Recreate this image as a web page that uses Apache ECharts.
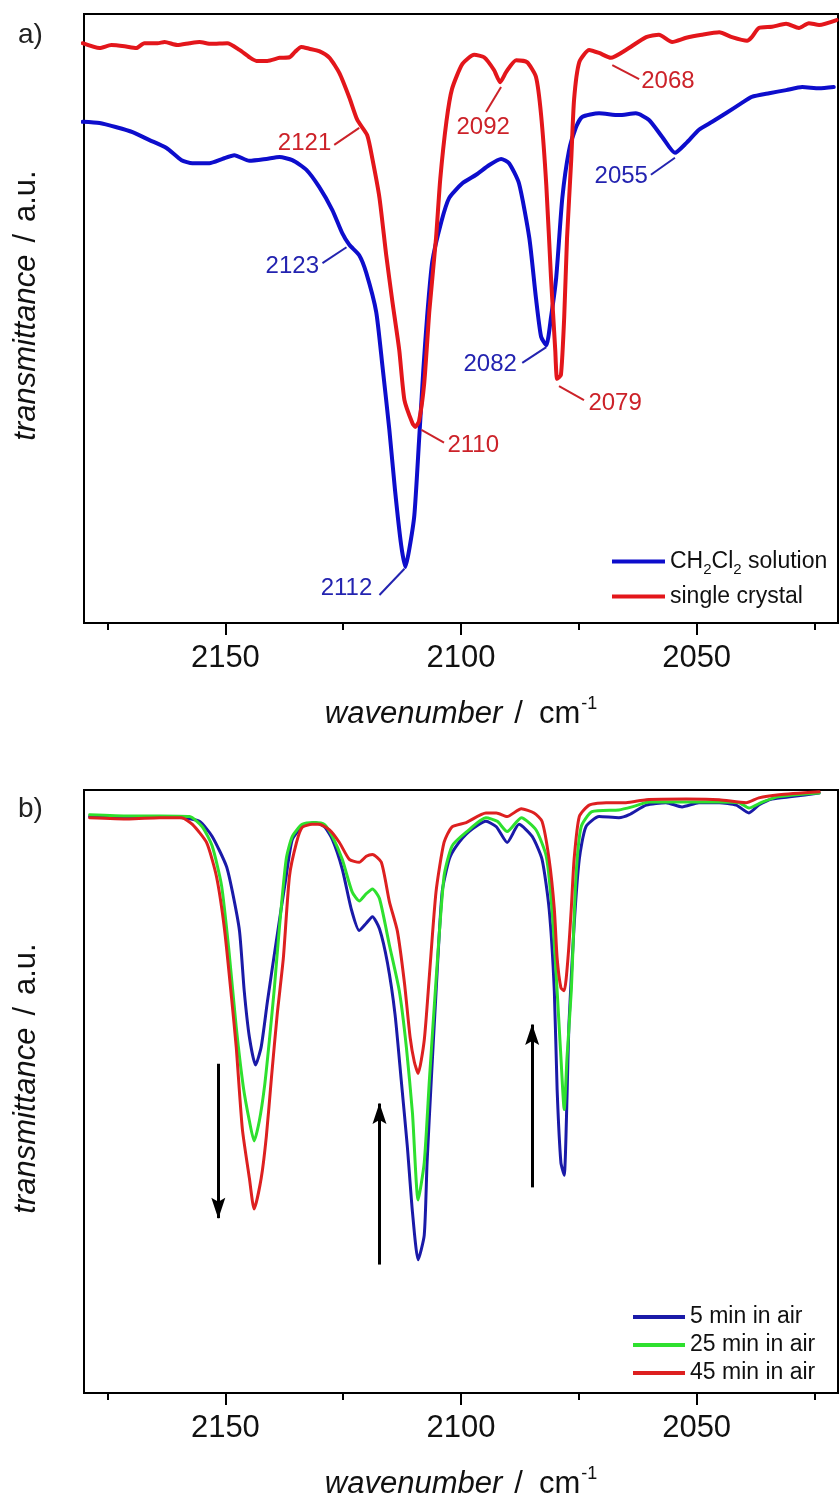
<!DOCTYPE html>
<html>
<head>
<meta charset="utf-8">
<script src="https://cdn.jsdelivr.net/npm/echarts@6/dist/echarts.min.js"></script>
<style>
html,body{margin:0;padding:0;background:#fff;}
#chart{width:840px;height:1505px;}
</style>
</head>
<body>
<div id="chart"></div>
<script>
// ---------- data (wavenumber / cm-1, transmittance / a.u.) ----------
const xRange = [2020, 2180];
const majorTicks = [2050, 2100, 2150];
const minorTicks = [2025, 2075, 2125, 2175];

// panel a) CH2Cl2 solution
const solutionA = [[2180.3,82.3],[2176.7,82.1],[2173.1,81.4],[2169.7,80.6],[2166.1,79.3],[2162.5,78.0],[2159.3,76.0],[2157.0,75.5],[2153.4,75.5],[2150.6,76.2],[2148.1,76.8],[2144.9,75.9],[2141.3,76.2],[2138.5,76.5],[2135.8,76.0],[2132.8,74.4],[2130.1,71.6],[2127.3,67.8],[2125.2,64.0],[2123.7,62.1],[2121.6,60.4],[2120.1,57.5],[2118.0,51.1],[2116.7,42.4],[2115.2,31.7],[2114.0,21.8],[2112.7,12.8],[2111.8,9.2],[2111.0,12.0],[2109.9,17.7],[2108.9,30.0],[2108.0,41.5],[2107.2,50.2],[2106.1,59.3],[2104.2,65.8],[2102.5,69.8],[2099.7,72.2],[2096.8,73.6],[2094.0,75.2],[2091.5,76.2],[2089.8,75.5],[2087.7,72.2],[2085.5,63.2],[2084.1,53.4],[2083.0,47.0],[2081.9,45.6],[2080.9,50.2],[2079.8,56.7],[2078.5,69.8],[2077.1,77.5],[2075.6,81.4],[2074.3,83.1],[2070.7,83.7],[2066.5,83.4],[2062.9,83.7],[2060.1,82.6],[2057.3,79.8],[2054.6,77.2],[2052.2,78.8],[2049.5,81.0],[2046.7,82.3],[2043.8,83.7],[2040.4,85.4],[2038.3,86.4],[2034.6,87.0],[2031.0,87.5],[2027.6,88.0],[2024.0,87.8],[2020.9,88.0]];
// panel a) single crystal
const crystalA = [[2180.3,95.2],[2176.7,94.4],[2174.2,94.9],[2171.4,94.7],[2168.9,94.4],[2167.2,95.2],[2164.4,95.2],[2162.9,95.4],[2160.2,94.9],[2157.6,95.2],[2155.5,95.4],[2153.0,95.1],[2149.6,95.2],[2147.0,94.1],[2144.9,92.9],[2143.4,92.3],[2141.1,92.3],[2138.5,92.8],[2136.4,92.9],[2135.2,93.8],[2133.9,94.6],[2132.2,94.3],[2130.1,93.9],[2127.9,92.8],[2125.8,90.3],[2123.7,86.3],[2122.0,82.6],[2119.9,80.1],[2118.8,76.2],[2117.3,69.8],[2115.9,60.6],[2114.6,53.0],[2113.1,44.8],[2112.0,36.6],[2110.3,32.8],[2109.7,32.2],[2108.9,33.2],[2107.8,39.4],[2106.7,51.4],[2105.3,63.2],[2104.4,72.9],[2103.1,82.3],[2101.9,87.7],[2099.7,91.8],[2097.2,93.3],[2095.1,92.9],[2093.0,90.8],[2091.7,88.8],[2090.4,90.5],[2088.3,92.4],[2086.0,92.1],[2084.1,89.7],[2083.0,83.4],[2081.9,71.9],[2080.9,56.7],[2080.0,44.8],[2079.6,40.1],[2078.8,40.7],[2078.1,50.2],[2077.5,63.2],[2076.6,76.2],[2076.0,86.0],[2074.9,92.1],[2072.8,94.1],[2070.7,93.6],[2068.2,92.8],[2065.0,94.1],[2060.7,96.2],[2058.0,96.6],[2055.2,95.4],[2052.2,96.1],[2048.9,96.6],[2045.2,97.0],[2042.5,96.2],[2039.3,95.6],[2038.3,96.2],[2036.8,97.7],[2034.0,97.9],[2031.0,98.4],[2028.3,97.7],[2026.2,98.5],[2024.0,98.2],[2020.3,99.0]];

// panel b) time in air
const air5 = [[2178.8,95.6],[2170.4,95.4],[2164.0,95.6],[2159.1,95.4],[2155.5,94.8],[2152.8,92.3],[2149.8,87.4],[2148.5,83.1],[2147.0,76.6],[2146.0,66.7],[2144.9,59.0],[2143.6,54.4],[2142.4,57.4],[2141.1,64.8],[2139.2,74.9],[2137.1,85.7],[2135.8,91.8],[2133.7,93.9],[2131.1,94.6],[2129.0,93.9],[2127.3,91.8],[2125.2,86.9],[2123.3,80.3],[2121.6,76.7],[2120.1,77.9],[2118.8,79.0],[2117.3,77.0],[2115.6,71.3],[2114.0,62.8],[2112.7,52.0],[2111.4,41.0],[2110.3,30.0],[2109.1,22.1],[2107.8,26.2],[2107.2,38.2],[2106.3,52.0],[2105.3,66.4],[2104.0,83.1],[2102.5,88.5],[2101.0,90.7],[2098.3,93.1],[2094.7,94.8],[2092.5,93.9],[2090.2,91.3],[2087.7,94.3],[2084.9,92.3],[2082.8,88.5],[2081.3,80.3],[2080.2,66.7],[2079.6,50.3],[2078.8,38.2],[2078.1,36.1],[2077.5,49.2],[2077.1,61.1],[2076.0,77.5],[2074.9,88.5],[2073.5,93.9],[2070.7,95.6],[2066.5,95.4],[2064.3,95.9],[2060.7,97.5],[2056.5,97.9],[2053.1,97.2],[2049.5,97.9],[2045.2,97.9],[2041.6,97.5],[2038.9,96.2],[2036.8,97.5],[2034.0,98.5],[2029.8,98.9],[2024.0,99.5]];
const air25 = [[2178.8,95.9],[2170.4,95.7],[2164.0,95.7],[2157.6,95.6],[2154.9,93.9],[2152.8,90.7],[2150.8,84.1],[2149.2,73.0],[2147.7,60.7],[2146.2,50.8],[2144.9,45.1],[2143.9,41.8],[2142.8,45.1],[2141.7,50.8],[2140.7,58.2],[2139.6,67.2],[2138.5,77.5],[2137.1,88.5],[2135.8,92.3],[2133.7,94.3],[2131.1,94.6],[2129.0,94.3],[2127.3,92.3],[2125.2,88.5],[2123.1,83.1],[2121.6,81.6],[2120.1,82.8],[2118.8,83.6],[2117.3,82.0],[2115.2,74.3],[2113.1,66.7],[2111.6,57.4],[2110.3,46.4],[2109.1,32.0],[2107.8,38.2],[2106.7,52.0],[2105.3,68.4],[2103.6,85.7],[2101.9,90.7],[2098.9,93.0],[2094.7,95.4],[2092.3,94.8],[2090.2,93.1],[2087.2,95.4],[2084.1,93.4],[2081.9,89.0],[2080.7,80.3],[2079.6,66.7],[2078.8,55.7],[2078.1,47.0],[2077.5,55.7],[2076.6,66.7],[2075.6,85.7],[2074.5,93.9],[2072.2,96.4],[2066.5,96.7],[2063.7,97.2],[2060.1,98.0],[2052.2,98.0],[2045.2,98.0],[2041.0,97.9],[2038.9,97.0],[2036.1,98.0],[2032.5,98.9],[2024.0,99.5]];
const air45 = [[2178.8,95.4],[2170.4,95.2],[2164.0,95.4],[2159.3,95.4],[2157.0,94.3],[2154.0,91.3],[2151.9,85.7],[2150.2,77.0],[2148.7,65.6],[2147.7,57.4],[2146.4,43.8],[2144.9,35.6],[2143.9,30.5],[2142.4,35.6],[2141.3,42.6],[2140.2,52.5],[2139.0,62.8],[2137.7,72.1],[2136.4,85.7],[2134.9,91.3],[2133.7,93.8],[2131.6,94.3],[2130.1,94.3],[2127.9,93.4],[2125.8,91.3],[2123.7,88.5],[2121.6,88.0],[2120.1,89.0],[2118.8,89.3],[2116.9,88.0],[2115.2,81.5],[2113.5,76.6],[2112.0,68.0],[2110.8,59.0],[2109.9,54.9],[2109.1,53.0],[2107.8,58.5],[2106.7,69.3],[2105.3,83.1],[2103.6,91.3],[2101.9,93.9],[2098.9,94.6],[2094.7,96.2],[2092.5,96.2],[2090.2,95.6],[2087.2,96.9],[2084.5,96.2],[2082.8,94.8],[2081.3,88.5],[2080.2,80.3],[2079.6,72.1],[2078.8,67.2],[2078.1,66.7],[2077.3,72.1],[2076.6,80.3],[2076.0,88.5],[2074.9,95.6],[2072.8,97.5],[2069.2,97.9],[2065.0,97.9],[2060.7,98.4],[2052.2,98.5],[2045.2,98.4],[2039.5,97.9],[2036.8,98.7],[2032.5,99.2],[2024.0,99.7]];

// peak labels of panel a): text, label anchor, leader line (data coords)
const peakLabelsSolution = [
  {text:'2123', at:[2135.8,58.6], line:[[2129.4,59.1],[2124.3,61.7]]},
  {text:'2112', at:[2124.3,5.7],  line:[[2117.3,4.6],[2112.0,8.9]]},
  {text:'2082', at:[2093.8,42.4], line:[[2087.0,42.7],[2081.9,45.3]]},
  {text:'2055', at:[2066.0,73.4], line:[[2059.7,73.6],[2054.6,76.4]]}
];
const peakLabelsCrystal = [
  {text:'2121', at:[2133.2,78.7], line:[[2126.9,78.5],[2121.6,81.3]]},
  {text:'2110', at:[2097.4,29.2], line:[[2108.4,31.7],[2103.6,29.6]]},
  {text:'2092', at:[2095.3,81.4], line:[[2094.7,83.9],[2091.5,88.0]]},
  {text:'2079', at:[2067.3,36.1], line:[[2079.2,38.9],[2073.9,36.6]]},
  {text:'2068', at:[2056.1,89.0], line:[[2067.9,91.6],[2062.2,89.3]]}
];
// arrows of panel b): wavenumber, tail and tip transmittance
const arrowsB = [
  {x:2151.5, from:54.6, to:29.0},
  {x:2117.3, from:21.3, to:48.0},
  {x:2084.9, from:34.1, to:61.1}
];
const seriesNames = ['CH2Cl2 solution', 'single crystal', '5 min in air', '25 min in air', '45 min in air'];

// ---------- styling ----------
const FONT = '"Liberation Sans", Arial, Helvetica, sans-serif';
const BLUE_A = '#0d0dcc', RED_A = '#e3161b';
const BLUE_TXT = '#2323b0', RED_TXT = '#cc2229';
const BLUE_B = '#1a1aa8', GREEN_B = '#2ee02e', RED_B = '#dd2020';
const ARROW_UP = 'path://M7,0 L14,21 L7,17 L0,21 Z';
const ARROW_DOWN = 'path://M0,0 L7,4 L14,0 L7,21 Z';

const grids = [
  {left:83, top:14, width:755, height:609},
  {left:83, top:790, width:755, height:610}
];

function mainX(gi) {
  return {
    type:'value', gridIndex:gi, min:xRange[0], max:xRange[1], inverse:true, position:'bottom',
    axisLine:{show:true, onZero:false, lineStyle:{color:'#000', width:2}},
    axisTick:{show:true, inside:false, length:12, customValues:majorTicks, lineStyle:{color:'#000', width:2}},
    axisLabel:{show:true, customValues:majorTicks, formatter: v => String(v), margin:20, fontSize:31, fontFamily:FONT, color:'#111'},
    splitLine:{show:false},
    name:'{i|wavenumber}{s|/}{n|cm}{sup|-1}', nameLocation:'middle', nameGap:71,
    nameTextStyle:{fontSize:31, fontFamily:FONT, color:'#111', lineHeight:40,
      rich:{
        i:{fontSize:31, fontStyle:'italic', fontFamily:FONT, color:'#111', lineHeight:40},
        s:{fontSize:31, fontFamily:FONT, color:'#111', lineHeight:40, padding:[0,16,0,12]},
        n:{fontSize:31, fontFamily:FONT, color:'#111', lineHeight:40},
        sup:{fontSize:18, fontFamily:FONT, color:'#111', lineHeight:18, padding:[0,0,20,1]}
      }}
  };
}
function minorX(gi) {
  return {
    type:'value', gridIndex:gi, min:xRange[0], max:xRange[1], inverse:true, position:'bottom',
    axisLine:{show:false},
    axisTick:{show:true, inside:false, length:7, customValues:minorTicks, lineStyle:{color:'#000', width:2}},
    axisLabel:{show:false}, splitLine:{show:false}
  };
}
function yAx(gi) {
  return {
    type:'value', gridIndex:gi, min:0, max:100,
    axisLine:{show:false}, axisTick:{show:false}, axisLabel:{show:false}, splitLine:{show:false},
    name:'{i|transmittance}{s|/}{n|a.u.}', nameLocation:'middle', nameRotate:90, nameGap:40,
    nameTextStyle:{fontSize:31, fontFamily:FONT, color:'#111', lineHeight:36, padding:[0,0,0,26],
      rich:{
        i:{fontSize:31, fontStyle:'italic', fontFamily:FONT, color:'#111', lineHeight:36},
        s:{fontSize:31, fontFamily:FONT, color:'#111', lineHeight:36, padding:[0,12,0,12]},
        n:{fontSize:31, fontFamily:FONT, color:'#111', lineHeight:36}
      }}
  };
}

function leaderLines(labels, color) {
  return {
    silent:true, animation:false, symbol:['none','none'], label:{show:false},
    lineStyle:{color:color, width:2, type:'solid'}, emphasis:{disabled:true},
    data: labels.map(l => [{coord:l.line[0]}, {coord:l.line[1]}])
  };
}
function peakTexts(labels, color) {
  return {
    silent:true, animation:false, symbol:'circle', symbolSize:1,
    itemStyle:{color:'rgba(0,0,0,0)'},
    label:{show:true, position:'inside', fontSize:24, fontFamily:FONT, color:color},
    emphasis:{disabled:true},
    data: labels.map(l => ({coord:l.at, value:l.text, label:{formatter:l.text}}))
  };
}
function lineSeries(name, data, color, width, xi, yi, extra) {
  return Object.assign({
    name:name, type:'line', data:data, xAxisIndex:xi, yAxisIndex:yi,
    symbol:'none', showSymbol:false, smooth:0.2,
    lineStyle:{color:color, width:width, join:'round', cap:'round'}, itemStyle:{color:color},
    emphasis:{disabled:true}, animation:false
  }, extra || {});
}

const option = {
  animation:false,
  backgroundColor:'#fff',
  grid: grids.map(g => Object.assign({show:true, borderColor:'#000', borderWidth:2, backgroundColor:'rgba(0,0,0,0)', containLabel:false}, g)),
  xAxis:[mainX(0), mainX(1), minorX(0), minorX(1)],
  yAxis:[yAx(0), yAx(1)],
  legend:[
    {
      data:[seriesNames[0], seriesNames[1]], orient:'vertical', left:612, top:546, padding:0,
      itemWidth:53, itemHeight:4, icon:'rect', itemGap:4, selectedMode:false,
      formatter: n => n === seriesNames[0] ? 'CH{sub|2}Cl{sub|2} solution' : n,
      textStyle:{fontSize:23, fontFamily:FONT, color:'#111', lineHeight:31,
        rich:{sub:{fontSize:15, fontFamily:FONT, color:'#111', lineHeight:14, padding:[16,0,0,0]}}}
    },
    {
      data:[seriesNames[2], seriesNames[3], seriesNames[4]], orient:'vertical', left:633, top:1304, padding:0,
      itemWidth:52, itemHeight:4, icon:'rect', itemGap:2, selectedMode:false,
      textStyle:{fontSize:23, fontFamily:FONT, color:'#111', lineHeight:26}
    }
  ],
  graphic:[
    {type:'text', left:18, top:21, style:{text:'a)', fontSize:28, fontFamily:FONT, fill:'#222'}},
    {type:'text', left:18, top:795, style:{text:'b)', fontSize:28, fontFamily:FONT, fill:'#222'}}
  ],
  series:[
    lineSeries(seriesNames[0], solutionA, BLUE_A, 4, 0, 0, {
      markLine: leaderLines(peakLabelsSolution, BLUE_TXT),
      markPoint: peakTexts(peakLabelsSolution, BLUE_TXT)
    }),
    lineSeries(seriesNames[1], crystalA, RED_A, 4, 0, 0, {
      markLine: leaderLines(peakLabelsCrystal, RED_TXT),
      markPoint: peakTexts(peakLabelsCrystal, RED_TXT)
    }),
    lineSeries(seriesNames[2], air5, BLUE_B, 3, 1, 1),
    lineSeries(seriesNames[3], air25, GREEN_B, 3, 1, 1),
    lineSeries(seriesNames[4], air45, RED_B, 3, 1, 1, {
      markLine: {
        silent:true, animation:false, symbol:['none','none'], label:{show:false},
        lineStyle:{color:'#000', width:3, type:'solid', cap:'butt'}, emphasis:{disabled:true},
        data: arrowsB.map(a => [{coord:[a.x, a.from]}, {coord:[a.x, a.to]}])
      }
    }),
    {
      name:'arrow heads', type:'scatter', xAxisIndex:1, yAxisIndex:1, silent:true, animation:false,
      symbolSize:[14,21], symbolKeepAspect:false,
      itemStyle:{color:'#000', opacity:1}, emphasis:{disabled:true},
      data: arrowsB.map(a => {
        const up = a.to > a.from;
        return {value:[a.x, a.to], symbol: up ? ARROW_UP : ARROW_DOWN, symbolOffset:[0, up ? 10 : -10]};
      })
    }
  ]
};

const chart = echarts.init(document.getElementById('chart'), null, {renderer:'canvas'});
chart.setOption(option);
</script>
</body>
</html>
